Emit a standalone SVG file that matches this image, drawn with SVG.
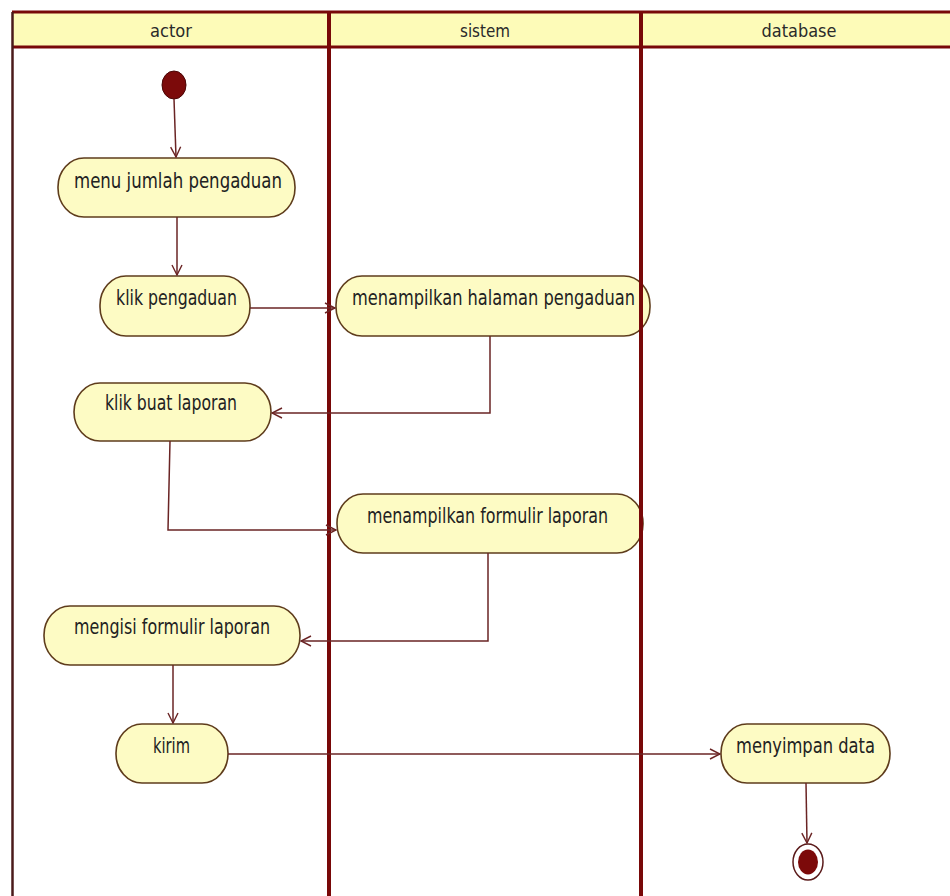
<svg xmlns="http://www.w3.org/2000/svg" width="950" height="896" viewBox="0 0 950 896">
  <style>
    .lane { stroke: #780808; stroke-width: 4; fill: none; }
    .lane-edge { stroke: #4a1a1a; stroke-width: 2.5; fill: none; }
    .head { fill: #fdfbb8; }
    .head-line { stroke: #780808; stroke-width: 3; fill: none; }
    .head-text { font-family: "DejaVu Sans", "Liberation Sans", sans-serif; font-size: 18px; fill: #2a2a2a; text-anchor: middle; }
    .act rect { fill: #fdfbc4; stroke: #5e3c1c; stroke-width: 1.6; }
    .act text { font-family: "DejaVu Sans", "Liberation Sans", sans-serif; font-size: 21px; fill: #222; text-anchor: middle; }
    .flow { stroke: #6a2424; stroke-width: 1.5; fill: none; marker-end: url(#open); }
  </style>
  <defs>
    <marker id="open" viewBox="0 0 12 12" refX="11" refY="6" markerWidth="12" markerHeight="12" markerUnits="userSpaceOnUse" orient="auto">
      <path d="M1,1 L11,6 L1,11" fill="none" stroke="#6a2424" stroke-width="1.4"/>
    </marker>
  </defs>

  <rect width="950" height="896" fill="#ffffff"/>

  <!-- swimlane header -->
  <g id="header">
    <rect class="head" x="12" y="12" width="938" height="35"/>
    <line class="head-line" x1="12" y1="12" x2="950" y2="12"/>
    <line class="head-line" x1="12" y1="47" x2="950" y2="47"/>
    <text class="head-text" x="171" y="37" textLength="42" lengthAdjust="spacingAndGlyphs">actor</text>
    <text class="head-text" x="485" y="37" textLength="50" lengthAdjust="spacingAndGlyphs">sistem</text>
    <text class="head-text" x="799" y="37" textLength="75" lengthAdjust="spacingAndGlyphs">database</text>
  </g>

  <!-- activities -->
  <g id="start">
    <ellipse cx="174" cy="85" rx="12" ry="14" fill="#7c0a0a" stroke="#4a0606" stroke-width="1"/>
  </g>
  <g id="menu-jumlah-pengaduan" class="act">
    <rect x="58" y="158" width="237" height="59" rx="26" ry="29"/>
    <text x="178" y="188" textLength="208" lengthAdjust="spacingAndGlyphs">menu jumlah pengaduan</text>
  </g>
  <g id="klik-pengaduan" class="act">
    <rect x="100" y="276" width="150" height="60" rx="26" ry="29"/>
    <text x="176.5" y="305" textLength="121" lengthAdjust="spacingAndGlyphs">klik pengaduan</text>
  </g>
  <g id="menampilkan-halaman-pengaduan" class="act">
    <rect x="336" y="276" width="314" height="60" rx="26" ry="29"/>
    <text x="493.5" y="305" textLength="283" lengthAdjust="spacingAndGlyphs">menampilkan halaman pengaduan</text>
  </g>
  <g id="klik-buat-laporan" class="act">
    <rect x="74" y="383" width="197" height="58" rx="26" ry="29"/>
    <text x="171" y="410" textLength="132" lengthAdjust="spacingAndGlyphs">klik buat laporan</text>
  </g>
  <g id="menampilkan-formulir-laporan" class="act">
    <rect x="337" y="494" width="306" height="59" rx="26" ry="29"/>
    <text x="487.5" y="523" textLength="241" lengthAdjust="spacingAndGlyphs">menampilkan formulir laporan</text>
  </g>
  <g id="mengisi-formulir-laporan" class="act">
    <rect x="44" y="606" width="256" height="59" rx="26" ry="29"/>
    <text x="172" y="634" textLength="196" lengthAdjust="spacingAndGlyphs">mengisi formulir laporan</text>
  </g>
  <g id="kirim" class="act">
    <rect x="116" y="724" width="112" height="59" rx="26" ry="29"/>
    <text x="171.5" y="753" textLength="37" lengthAdjust="spacingAndGlyphs">kirim</text>
  </g>
  <g id="menyimpan-data" class="act">
    <rect x="721" y="724" width="169" height="59" rx="26" ry="29"/>
    <text x="805.5" y="753" textLength="139" lengthAdjust="spacingAndGlyphs">menyimpan data</text>
  </g>
  <g id="end">
    <ellipse cx="808" cy="862" rx="15" ry="18" fill="#ffffff" stroke="#5a1a1a" stroke-width="1.5"/>
    <ellipse cx="808" cy="862" rx="10" ry="12.5" fill="#7c0a0a"/>
  </g>

  <!-- lane separators -->
  <g id="lanes">
    <line class="lane-edge" x1="12.5" y1="12" x2="12.5" y2="896"/>
    <line class="lane" x1="329" y1="12" x2="329" y2="896"/>
    <line class="lane" x1="641" y1="12" x2="641" y2="896"/>
  </g>

  <!-- control flows -->
  <g id="connectors">
    <path class="flow" d="M174,99 L176,157"/>
    <path class="flow" d="M177,217 L177,275"/>
    <path class="flow" d="M250,308 L335,308"/>
    <path class="flow" d="M490,336 L490,413 L272,413"/>
    <path class="flow" d="M170,441 L168,530 L336,530"/>
    <path class="flow" d="M488,553 L488,641 L301,641"/>
    <path class="flow" d="M173,665 L173,723"/>
    <path class="flow" d="M228,754 L720,754"/>
    <path class="flow" d="M806,783 L807,843"/>
  </g>
</svg>
